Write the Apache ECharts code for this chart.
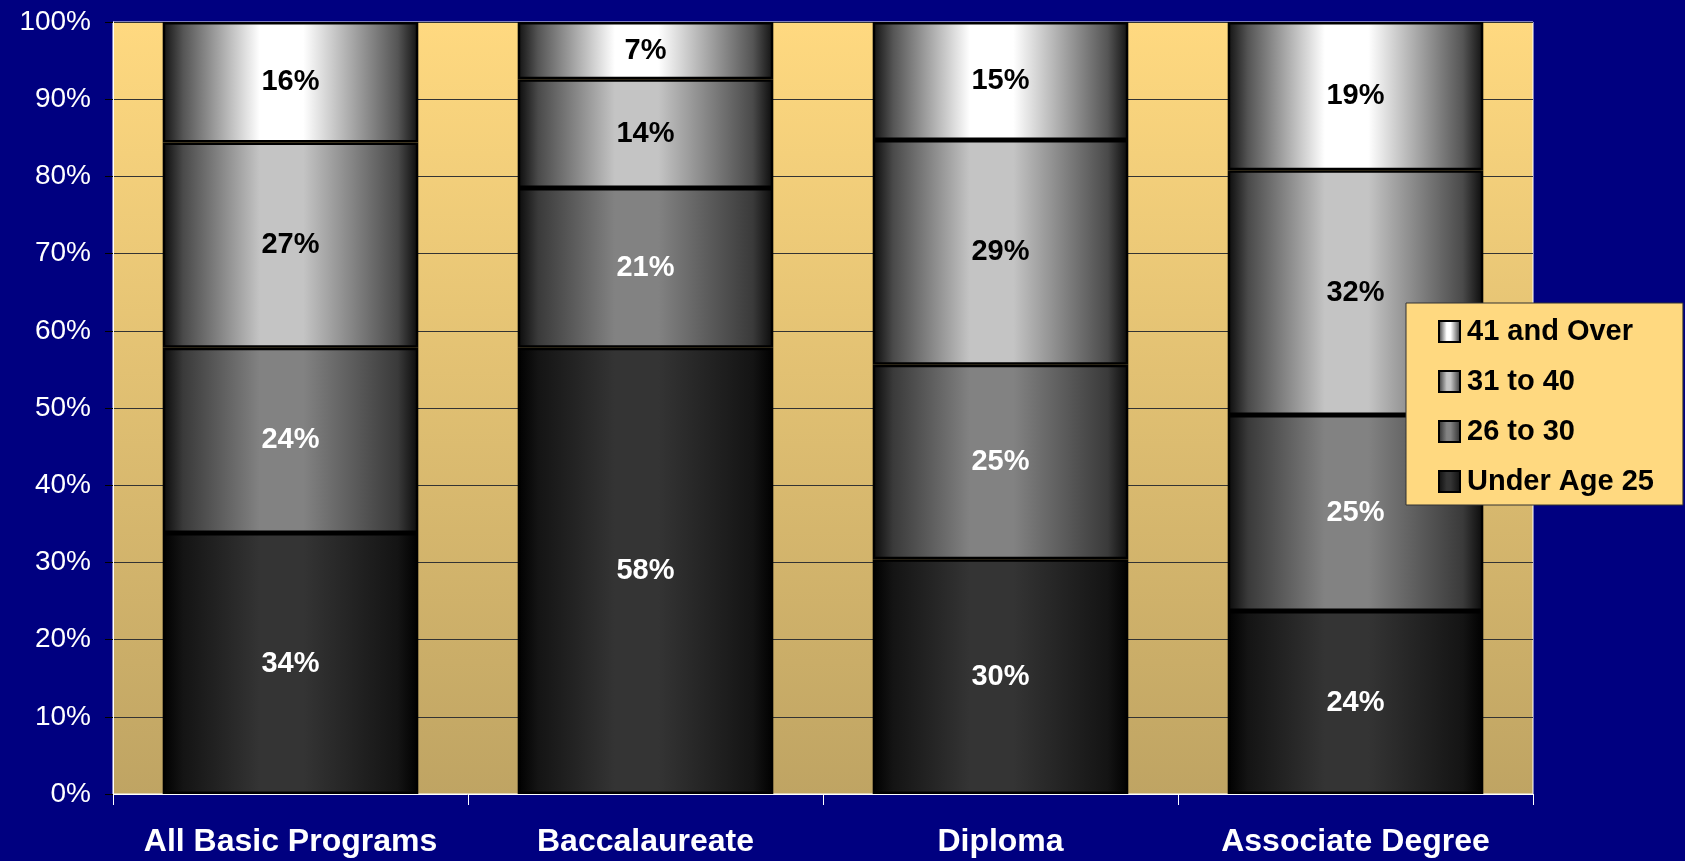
<!DOCTYPE html>
<html>
<head>
<meta charset="utf-8">
<script src="https://cdn.jsdelivr.net/npm/echarts@6/dist/echarts.min.js"></script>
<style>
html,body{margin:0;padding:0;background:#000080;}
#chart{width:1685px;height:861px;}
</style>
</head>
<body>
<div id="chart"></div>
<script>
const categories = ['All Basic Programs', 'Baccalaureate', 'Diploma', 'Associate Degree'];
const under25 = [33.8, 57.8, 30.4, 23.7];
const age26to30 = [24.0, 20.7, 25.2, 25.4];
const age31to40 = [26.6, 14.1, 29.1, 31.7];
const age41over = [15.6, 7.4, 15.3, 19.2];
const yTicks = [0, 10, 20, 30, 40, 50, 60, 70, 80, 90, 100];

const G = echarts.graphic.LinearGradient;
function hGrad(edge, near, mid) {
  return new G(0, 0, 1, 0, [
    {offset: 0, color: edge},
    {offset: 0.08, color: near},
    {offset: 0.38, color: mid},
    {offset: 0.55, color: mid},
    {offset: 0.92, color: near},
    {offset: 1, color: edge}
  ]);
}

const chart = echarts.init(document.getElementById('chart'));
const FONT = '"Liberation Sans", Arial, sans-serif';

function mkSeries(name, data, grad, textColor) {
  return {
    name: name,
    type: 'bar',
    stack: 'total',
    data: data,
    barWidth: '72%',
    itemStyle: {color: grad, borderColor: '#000', borderWidth: 2.5},
    label: {
      show: true,
      position: 'inside',
      color: textColor,
      fontFamily: FONT,
      fontWeight: 'bold',
      fontSize: 29,
      formatter: p => Math.round(p.value) + '%'
    },
    emphasis: {disabled: true}
  };
}

chart.setOption({
  backgroundColor: '#000080',
  animation: false,
  grid: {
    left: 113, top: 22, right: 152, bottom: 67,
    show: true,
    backgroundColor: new G(0, 0, 0, 1, [
      {offset: 0, color: '#FFD980'},
      {offset: 1, color: '#BFA463'}
    ]),
    borderColor: '#ffffff',
    borderWidth: 1
  },
  legend: {
    orient: 'vertical',
    left: 1406,
    top: 303,
    data: ['41 and Over', '31 to 40', '26 to 30', 'Under Age 25'],
    backgroundColor: '#FFD980',
    borderColor: '#333',
    borderWidth: 1,
    padding: [14, 29, 9, 32],
    itemWidth: 21,
    itemHeight: 21,
    itemGap: 21,
    icon: 'rect',
    textStyle: {color: '#000', fontFamily: FONT, fontWeight: 'bold', fontSize: 29, padding: [0, 0, 0, 2]},
    itemStyle: {borderColor: '#000', borderWidth: 2}
  },
  xAxis: {
    type: 'category',
    data: categories,
    axisLine: {show: true, lineStyle: {color: '#ffffff', width: 1}},
    axisTick: {show: true, interval: 0, length: 11, lineStyle: {color: '#ffffff'}},
    axisLabel: {interval: 0, color: '#ffffff', fontFamily: FONT, fontWeight: 'bold', fontSize: 32, margin: 32}
  },
  yAxis: {
    type: 'value',
    min: 0, max: 100, interval: 10,
    axisLine: {show: true, lineStyle: {color: '#ffffff', width: 1}},
    axisTick: {show: true, length: 8, lineStyle: {color: '#000'}},
    splitLine: {show: true, lineStyle: {color: '#333', width: 1}},
    axisLabel: {
      color: '#ffffff', fontFamily: FONT, fontSize: 28, margin: 22,
      formatter: v => (yTicks.indexOf(v) >= 0 ? v + '%' : '')
    }
  },
  series: [
    mkSeries('Under Age 25', under25, hGrad('#000000', '#141414', '#343434'), '#ffffff'),
    mkSeries('26 to 30', age26to30, hGrad('#0a0a0a', '#3a3a3a', '#828282'), '#ffffff'),
    mkSeries('31 to 40', age31to40, hGrad('#0a0a0a', '#4a4a4a', '#c4c4c4'), '#000000'),
    mkSeries('41 and Over', age41over, hGrad('#111111', '#555555', '#ffffff'), '#000000')
  ]
});
</script>
</body>
</html>
